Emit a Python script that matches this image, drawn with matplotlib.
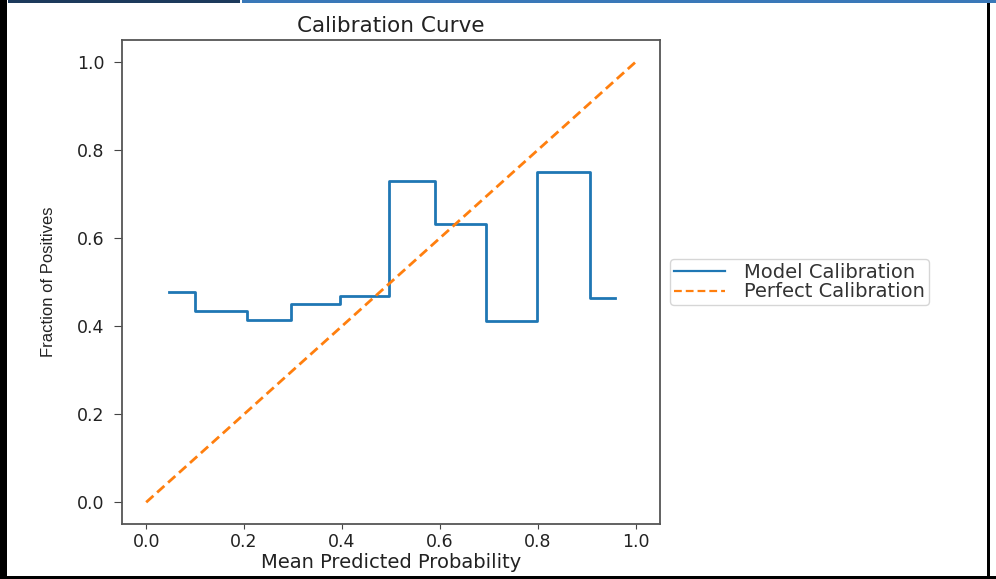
import numpy as np
import matplotlib
matplotlib.use("Agg")
import matplotlib.pyplot as plt
from matplotlib.patches import Rectangle

# Data
prob_pred = [0.046, 0.152, 0.258, 0.334, 0.458, 0.534, 0.647, 0.743, 0.854, 0.958]
prob_true = [0.477, 0.434, 0.415, 0.451, 0.468, 0.729, 0.631, 0.411, 0.750, 0.465]
perfect_x = [0, 1]
perfect_y = [0, 1]

title = "Calibration Curve"
xlabel = "Mean Predicted Probability"
ylabel = "Fraction of Positives"
labels = ["Model Calibration", "Perfect Calibration"]

fig = plt.figure(figsize=(9.96, 5.79), dpi=100)
ax = fig.add_axes([0.1222, 0.0945, 0.5405, 0.8364])

ax.step(prob_pred, prob_true, where="mid", color="#1f77b4", lw=2.0, label=labels[0])
ax.plot(perfect_x, perfect_y, linestyle="--", color="#ff7f0e", lw=2.0,
        dashes=(3.5, 1.8), label=labels[1])

ax.set_xticks([0.0, 0.2, 0.4, 0.6, 0.8, 1.0])
ax.set_yticks([0.0, 0.2, 0.4, 0.6, 0.8, 1.0])
ax.tick_params(labelsize=12.5, colors="#444444", labelcolor="#222222")
ax.tick_params(axis="y", length=5.5, pad=7)
ax.tick_params(axis="x", length=3.5, pad=3)
for s in ax.spines.values():
    s.set_color("#555555")
    s.set_linewidth(1.3)

ax.set_title(title, fontsize=15.5, color="#222222", pad=6)
ax.set_xlabel(xlabel, fontsize=14, color="#222222", labelpad=1)
ax.set_ylabel(ylabel, fontsize=12, color="#222222", family="Liberation Sans", labelpad=15)

leg = ax.legend(loc="center left", bbox_to_anchor=(1.012, 0.5), fontsize=14,
                frameon=True, handlelength=2.6, borderpad=0.2, labelspacing=0.02,
                handletextpad=1.0, borderaxespad=0.2)
leg.get_frame().set_edgecolor("#cccccc")
for ln in leg.get_lines():
    ln.set_linewidth(1.6)
for t in leg.get_texts():
    t.set_color("#333333")

# Screenshot frame decorations
fig.add_artist(Rectangle((0.0, 0.0), 0.007, 1.0, transform=fig.transFigure, color="black", lw=0))
fig.add_artist(Rectangle((0.991, 0.0), 0.003, 1.0, transform=fig.transFigure, color="black", lw=0))
fig.add_artist(Rectangle((0.0, 0.0), 1.0, 0.005, transform=fig.transFigure, color="black", lw=0))
fig.add_artist(Rectangle((0.008, 0.995), 0.233, 0.005, transform=fig.transFigure, color="#1d3a5c", lw=0))
fig.add_artist(Rectangle((0.243, 0.995), 0.757, 0.005, transform=fig.transFigure, color="#3a78b8", lw=0))

fig.savefig("out.png", dpi=100)
